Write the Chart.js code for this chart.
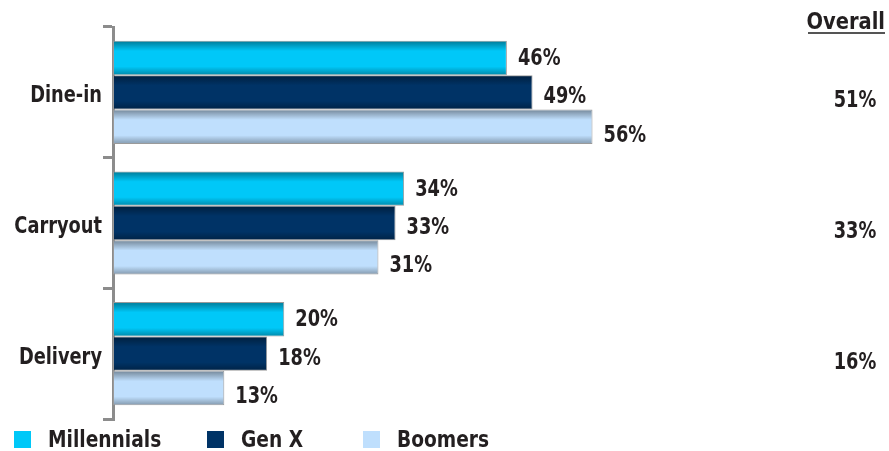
<!DOCTYPE html>
<html>
<head>
<meta charset="utf-8">
<script src="https://cdn.jsdelivr.net/npm/chart.js@4/dist/chart.umd.min.js"></script>
<style>
    body { margin: 0; background: #fff; }
    .grafico { position: relative; width: 889px; height: 451px; }
    #legenda {
        position: absolute; left: 14px; top: 426px;
        display: flex; align-items: center;
        font: bold 23px "DejaVu Sans Condensed", sans-serif;
        color: #231f20;
    }
    #legenda .item { display: flex; align-items: center; }
    #legenda .item:nth-child(1) { width: 193px; }
    #legenda .item:nth-child(2) { width: 156px; }
    #legenda .quadrado { width: 17px; height: 17px; margin-right: 17px; }
    #legenda .nome { display: inline-block; transform: scaleX(0.9); transform-origin: left center; }
</style>
</head>
<body>
<div class="grafico">
    <canvas id="meuGrafico" width="889" height="451"></canvas>
    <div id="legenda"></div>
</div>
<script>
const categorias = ['Dine-in', 'Carryout', 'Delivery'];
const series = ['Millennials', 'Gen X', 'Boomers'];
const millennials = [46, 34, 20];
const genX = [49, 33, 18];
const boomers = [56, 31, 13];
const overall = [51, 33, 16];
const cores = ['#00c8f8', '#003366', '#bfdffd'];

const fonte = 'bold 23px "DejaVu Sans Condensed", sans-serif';
const corTexto = '#231f20';
const estreito = 0.86; // aperta a fonte na horizontal

// legenda em html embaixo do grafico
let legenda = document.getElementById('legenda');
series.forEach(function (nome, i) {
    legenda.innerHTML += `<div class="item"><div class="quadrado" style="background:${cores[i]}"></div><span class="nome">${nome}</span></div>`;
});

// escreve texto apertado na horizontal
function escrever(ctx, texto, x, y, alinhamento, escala) {
    ctx.save();
    ctx.translate(x, y);
    ctx.scale(escala || estreito, 1);
    ctx.textAlign = alinhamento;
    ctx.fillText(texto, 0, 0);
    ctx.restore();
}

// sombra em cima e embaixo de cada barra pra dar o efeito 3d
const sombraBarras = {
    id: 'sombraBarras',
    afterDatasetsDraw(chart) {
        const ctx = chart.ctx;
        chart.data.datasets.forEach(function (ds, i) {
            chart.getDatasetMeta(i).data.forEach(function (bar) {
                const topo = bar.y - bar.height / 2;
                const g = ctx.createLinearGradient(0, topo, 0, topo + bar.height);
                g.addColorStop(0, 'rgba(0,0,0,0.4)');
                g.addColorStop(0.3, 'rgba(0,0,0,0)');
                g.addColorStop(0.75, 'rgba(0,0,0,0)');
                g.addColorStop(1, 'rgba(0,0,0,0.32)');
                ctx.save();
                ctx.fillStyle = g;
                ctx.fillRect(bar.base + 1, topo + 1, bar.x - bar.base - 2, bar.height - 2);
                ctx.restore();
            });
        });
    }
};

// valores na ponta das barras, nomes das categorias e coluna "Overall"
const rotulos = {
    id: 'rotulos',
    afterDraw(chart) {
        const ctx = chart.ctx;
        const yScale = chart.scales.y;
        const descer = [1, 5, 9];
        ctx.save();
        ctx.font = fonte;
        ctx.fillStyle = corTexto;
        ctx.textBaseline = 'middle';

        chart.data.datasets.forEach(function (ds, i) {
            chart.getDatasetMeta(i).data.forEach(function (bar, j) {
                escrever(ctx, ds.data[j] + '%', bar.x + 11, bar.y + descer[i], 'left');
            });
        });

        categorias.forEach(function (nome, j) {
            escrever(ctx, nome, 102, yScale.getPixelForValue(j) + 4, 'right');
        });

        overall.forEach(function (v, j) {
            escrever(ctx, v + '%', 855, yScale.getPixelForValue(j) + 9, 'center');
        });

        ctx.textBaseline = 'alphabetic';
        escrever(ctx, 'Overall', 885, 29, 'right', 0.94);
        ctx.strokeStyle = '#555';
        ctx.lineWidth = 2;
        ctx.beginPath();
        ctx.moveTo(808, 33);
        ctx.lineTo(885, 33);
        ctx.stroke();
        ctx.restore();
    }
};

const ctx = document.getElementById('meuGrafico').getContext('2d');

new Chart(ctx, {
    type: 'bar',
    data: {
        labels: categorias,
        datasets: [millennials, genX, boomers].map(function (valores, i) {
            return {
                label: series[i],
                data: valores,
                backgroundColor: cores[i],
                borderColor: '#9a9a9a',
                borderWidth: 1,
                borderSkipped: false,
                barPercentage: 1,
                categoryPercentage: 0.79
            };
        })
    },
    options: {
        indexAxis: 'y',
        responsive: false,
        animation: false,
        layout: {
            padding: { top: 27, bottom: 32, right: 91, left: 0 }
        },
        plugins: {
            legend: { display: false },
            tooltip: { enabled: false }
        },
        scales: {
            x: {
                display: false,
                min: 0,
                max: 80
            },
            y: {
                afterFit: function (scale) { scale.width = 113; },
                grid: {
                    offset: true,
                    drawOnChartArea: false,
                    color: '#8c8c8c',
                    lineWidth: 3,
                    tickLength: 10
                },
                border: { display: true, color: '#8c8c8c', width: 3 },
                ticks: { display: false }
            }
        }
    },
    plugins: [sombraBarras, rotulos]
});
</script>
</body>
</html>
